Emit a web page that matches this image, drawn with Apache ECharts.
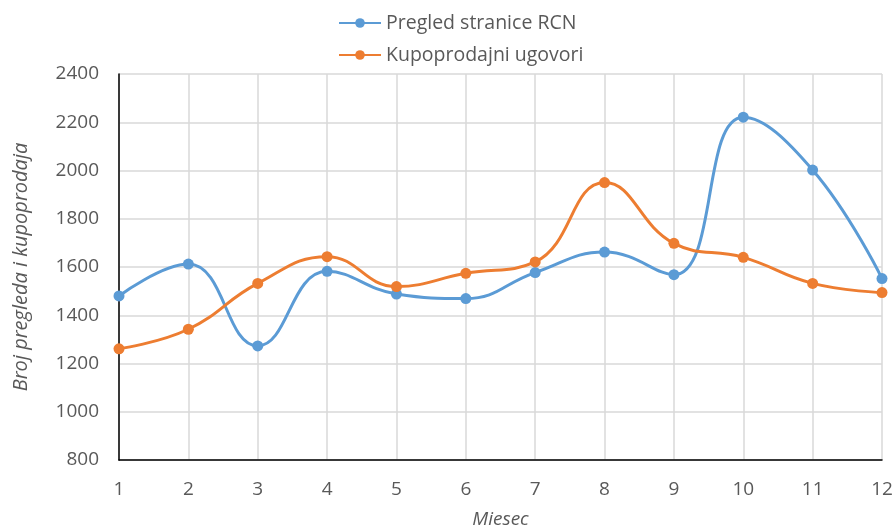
<!DOCTYPE html>
<html><head><meta charset="utf-8">
<script src="https://cdn.jsdelivr.net/npm/echarts@6/dist/echarts.min.js"></script>
<style>html,body{margin:0;padding:0;background:#fff}#c{width:893px;height:526px}</style>
</head><body><div id="c"></div>
<script>
const categories = ['1','2','3','4','5','6','7','8','9','10','11','12'];
const pregled = [1480,1612,1273,1582,1488,1469,1577,1662,1568,2221,2002,1552];
const kupoprodajni = [1261,1342,1532,1643,1519,1574,1621,1950,1698,1640,1532,1494];
const seriesNames = ['Pregled stranice RCN','Kupoprodajni ugovori'];
const font = '"Open Sans", "Liberation Sans", sans-serif';
const chart = echarts.init(document.getElementById('c'));
chart.setOption({
  animation:false,
  color:['#5b9bd5','#ed7d31'],
  legend:{
    orient:'vertical', left:333, top:8, itemWidth:42, itemHeight:12, itemGap:12,
    textStyle:{fontFamily:font,fontSize:19.5,color:'#595959'},
    data:seriesNames
  },
  grid:{left:119,right:11,top:74,bottom:66,containLabel:false,outerBoundsMode:'none'},
  xAxis:{
    type:'category', data:categories, boundaryGap:false,
    name:'Miesec', nameLocation:'middle', nameGap:50,
    nameTextStyle:{fontFamily:font,fontSize:19,fontStyle:'italic',color:'#595959'},
    axisLine:{lineStyle:{color:'#000',width:1.5}},
    axisTick:{show:false},
    axisLabel:{fontFamily:font,fontSize:19,color:'#595959',margin:20},
    splitLine:{show:true,lineStyle:{color:'#d9d9d9',width:1.5}}
  },
  yAxis:{
    type:'value', min:800, max:2400, interval:200,
    name:'Broj pregleda i kupoprodaja', nameLocation:'middle', nameGap:88, nameRotate:90,
    nameTextStyle:{fontFamily:font,fontSize:20,fontStyle:'italic',color:'#595959'},
    axisLine:{show:true,lineStyle:{color:'#000',width:1.5}},
    axisTick:{show:false},
    axisLabel:{fontFamily:font,fontSize:19,color:'#595959',margin:20,formatter:v=>String(v)},
    splitLine:{lineStyle:{color:'#d9d9d9',width:1.5}}
  },
  series:[
    {name:seriesNames[0],type:'line',data:pregled,smooth:0.45,symbol:'circle',symbolSize:11,lineStyle:{width:3}},
    {name:seriesNames[1],type:'line',data:kupoprodajni,smooth:0.45,symbol:'circle',symbolSize:11,lineStyle:{width:3}}
  ]
});
</script></body></html>
